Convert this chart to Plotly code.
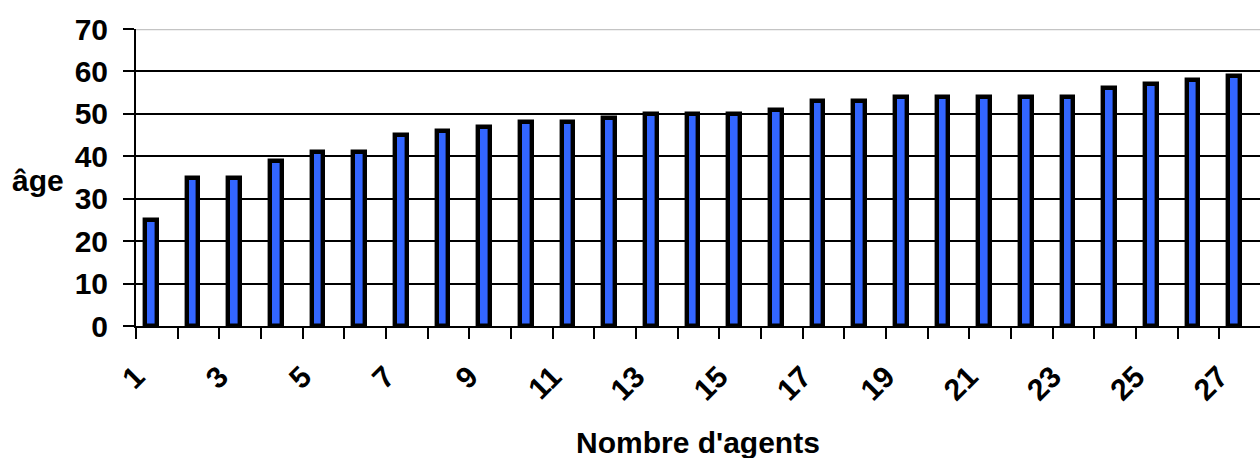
import plotly.graph_objects as go

agents = list(range(1, 28))
ages = [25, 35, 35, 39, 41, 41, 45, 46, 47, 48, 48, 49, 50, 50, 50, 51,
        53, 53, 54, 54, 54, 54, 54, 56, 57, 58, 59]
x_tick_vals = list(range(1, 28, 2))
x_tick_text = [str(v) for v in x_tick_vals]
y_tick_vals = list(range(0, 71, 10))

FONT = dict(family="Liberation Sans, Arial, sans-serif", size=30, color="black", weight="bold")
X_RANGE = [0.5, 27.48]
LABEL_SHIFT = 0.5

fig = go.Figure()
fig.add_trace(go.Bar(
    x=agents, y=ages,
    width=0.28, offset=-0.28,
    marker=dict(color="#3366FF", line=dict(color="black", width=4.4)),
    hoverinfo="skip",
))

fig.update_layout(
    width=1260, height=458,
    margin=dict(l=136, r=0, t=29, b=132),
    paper_bgcolor="white", plot_bgcolor="white",
    showlegend=False,
    font=FONT,
    bargap=0,
    xaxis=dict(
        range=X_RANGE,
        showticklabels=False,
        ticks="",
        showgrid=False, zeroline=False,
        showline=True, linecolor="black", linewidth=2,
        minor=dict(ticks="outside", tick0=0.5, dtick=1, ticklen=11,
                   tickwidth=2, tickcolor="black", showgrid=False),
    ),
    xaxis2=dict(
        overlaying="x", anchor="y", side="bottom",
        range=[X_RANGE[0] + LABEL_SHIFT, X_RANGE[1] + LABEL_SHIFT],
        tickvals=x_tick_vals, ticktext=x_tick_text,
        ticks="", tickangle=-45,
        tickfont=FONT,
        ticklabelstandoff=26,
        showgrid=False, zeroline=False, showline=False,
    ),
    yaxis=dict(
        range=[0, 70],
        tickvals=y_tick_vals,
        ticks="outside", ticklen=11, tickwidth=2, tickcolor="black",
        tickfont=FONT,
        ticklabelstandoff=9,
        showgrid=True, gridcolor="black", gridwidth=2,
        zeroline=False,
        showline=True, linecolor="black", linewidth=2,
    ),
    shapes=[dict(type="line", xref="paper", yref="y", x0=0, x1=1, y0=70, y1=70,
                 line=dict(color="#c4c4c4", width=2.5), layer="above")],
    annotations=[
        dict(text="âge", xref="paper", yref="y", x=(10 - 136) / 1124, y=34.4,
             xanchor="left", yanchor="middle", showarrow=False, font=FONT),
        dict(text="Nombre d'agents", xref="paper", yref="paper", x=0.5, y=(326 - 442) / 297,
             xanchor="center", yanchor="middle", showarrow=False, font=FONT),
    ],
)

# invisible trace to activate the label axis
fig.add_trace(go.Scatter(x=[agents[0]], y=[0], xaxis="x2", yaxis="y",
                         mode="markers", marker=dict(opacity=0), hoverinfo="skip",
                         showlegend=False))

fig.write_html("out.html")
